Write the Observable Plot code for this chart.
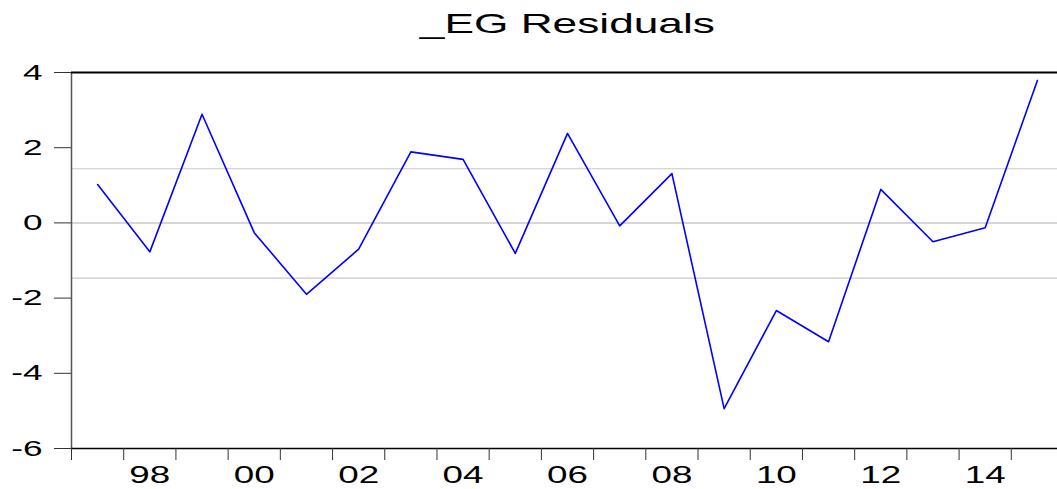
<!DOCTYPE html>
<html><head><meta charset="utf-8">
<script src="https://cdn.jsdelivr.net/npm/d3@7"></script>
<script src="https://cdn.jsdelivr.net/npm/@observablehq/plot@0.6"></script>
<style>
html,body{margin:0;padding:0;background:#fff;overflow:hidden;}
#title{position:absolute;left:71px;width:992px;top:0;height:50px;text-align:center;font-family:"Liberation Sans",Arial,sans-serif;font-size:28px;line-height:28px;padding-top:10px;box-sizing:border-box;color:#000;}
#title span{display:inline-block;transform:scaleX(1.58);transform-origin:center;}
#chart{position:absolute;top:50px;left:0;}
</style></head><body>
<div id="title"><span>_EG Residuals</span></div>
<div id="chart"></div>
<script>
const years = [1997,1998,1999,2000,2001,2002,2003,2004,2005,2006,2007,2008,2009,2010,2011,2012,2013,2014,2015];
const residuals = [1.02,-0.77,2.89,-0.26,-1.90,-0.70,1.89,1.69,-0.81,2.38,-0.08,1.31,-4.94,-2.33,-3.16,0.89,-0.50,-0.13,3.79];
const yTicks = [-6,-4,-2,0,2,4];
const xLabelYears = [1998,2000,2002,2004,2006,2008,2010,2012,2014];
const xTickLabels = ["98","00","02","04","06","08","10","12","14"];
const bandLevels = [1.44,-1.47];
const zeroLevel = [0];

const data = years.map((year, i) => ({year, value: residuals[i]}));
const boundaries = years.map(y => y - 0.5);

const chart = Plot.plot({
  width: 1057, height: 439,
  marginTop: 22, marginBottom: 41, marginLeft: 71, marginRight: 0,
  style: {fontFamily: "'Liberation Sans', Arial, sans-serif", background: "#fff", color: "#000"},
  x: {domain: [1996.5, 2015.5], range: [71, 1063]},
  y: {domain: [-6, 4]},
  marks: [
    Plot.ruleY(bandLevels, {stroke: "#c8c8c8", strokeWidth: 1.2}),
    Plot.ruleY(zeroLevel, {stroke: "#c8c8c8", strokeWidth: 1.5}),
    Plot.lineY(data, {x: "year", y: "value", stroke: "#0000ff", strokeWidth: 1.6}),
    Plot.ruleX([1996.5], {stroke: "#555", strokeWidth: 1.5}),
    Plot.ruleY([4], {stroke: "#000", strokeWidth: 2}),
    Plot.ruleY([-6], {stroke: "#000", strokeWidth: 1.5}),
    Plot.axisY(yTicks, {tickSize: 17, tickPadding: 12, fontSize: 22, stroke: "#333", tickFormat: d => String(d), label: null}),
    Plot.axisX(boundaries, {tickSize: 12, tickFormat: () => "", stroke: "#333", label: null}),
    Plot.axisX(xLabelYears, {tickSize: 0, tickPadding: 18, fontSize: 23, tickFormat: d => xTickLabels[xLabelYears.indexOf(d)], label: null})
  ]
});
chart.querySelectorAll('g[aria-label$="tick label"] text').forEach(t => {
  const tr = t.getAttribute("transform") || "";
  t.setAttribute("transform", tr + " scale(1.6,1)");
});
document.getElementById("chart").appendChild(chart);
</script>
</body></html>
